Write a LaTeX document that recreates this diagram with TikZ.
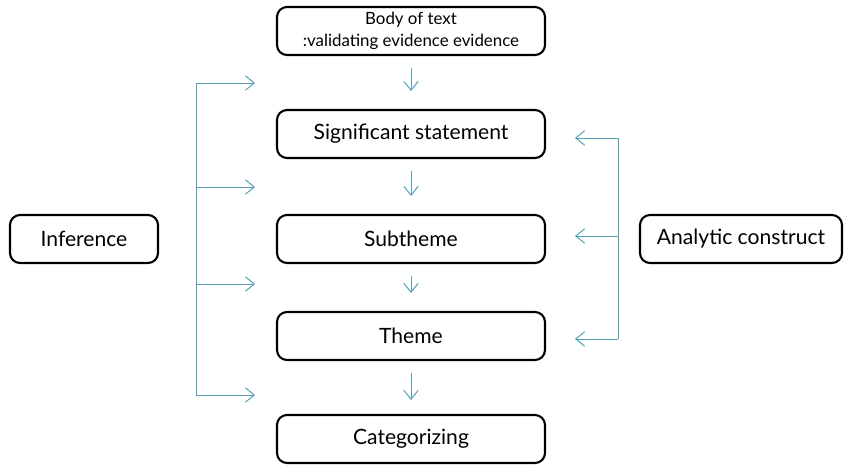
\documentclass[tikz,border=0pt]{standalone}
\usepackage{fontspec}
\setmainfont{Lato}
\usepackage{tikz}
\usetikzlibrary{arrows.meta,positioning}
\definecolor{linkblue}{RGB}{84,160,186}

\begin{document}
\begin{tikzpicture}
\tikzstyle{box} = [rectangle,draw=black,line width=1.5pt,rounded corners=2.5mm,minimum width=6.7cm,minimum height=1.2cm,inner sep=0pt,font=\fontsize{15}{17}\selectfont];%
\tikzstyle{link} = [linkblue,line width=0.7pt,-{Straight Barb[length=2.2mm,width=3.6mm,line width=0.7pt]}];%

\useasboundingbox (0,0) rectangle (21.1,11.6);

\node at (10.275,10.825) [box,align=center,font=\fontsize{12}{16}\selectfont] (body) {Body of text\\:validating evidence evidence};
\node at (10.275,8.25)  [box] (sig) {Significant statement};
\node at (10.275,5.625) [box] (sub) {Subtheme};
\node at (10.275,3.2)   [box] (theme) {Theme};
\node at (10.275,0.625) [box] (cat) {Categorizing};
\node at (2.1,5.625)    [box,minimum width=3.7cm] (infer) {Inference};
\node at (18.525,5.625) [box,minimum width=5.05cm] (analytic) {Analytic construct};

\path (body)  edge[link, shorten <=0.3cm, shorten >=0.45cm] (sig) ;
\path (sig)   edge[link, shorten <=0.3cm, shorten >=0.45cm] (sub) ;
\path (sub)   edge[link, shorten <=0.3cm, shorten >=0.45cm] (theme) ;
\path (theme) edge[link, shorten <=0.3cm, shorten >=0.35cm] (cat) ;

% inference bracket
\coordinate (l1) at (4.9,9.525);  \coordinate (l1e) at (6.375,9.525);
\coordinate (l2) at (4.9,6.925);  \coordinate (l2e) at (6.375,6.925);
\coordinate (l3) at (4.9,4.5);    \coordinate (l3e) at (6.375,4.5);
\coordinate (l4) at (4.9,1.725);  \coordinate (l4e) at (6.375,1.725);
\draw[linkblue,line width=0.7pt] (l1) -- (l4);
\foreach \i in {1,...,4}
  \draw[link] (l\i) -- (l\i e);

% analytic construct bracket
\coordinate (r1) at (15.45,8.15);  \coordinate (r1e) at (14.375,8.15);
\coordinate (r2) at (15.45,5.7);   \coordinate (r2e) at (14.375,5.7);
\coordinate (r3) at (15.45,3.125); \coordinate (r3e) at (14.375,3.125);
\draw[linkblue,line width=0.7pt] (r1) -- (r3);
\foreach \i in {1,...,3}
  \draw[link] (r\i) -- (r\i e);

\end{tikzpicture}
\end{document}
